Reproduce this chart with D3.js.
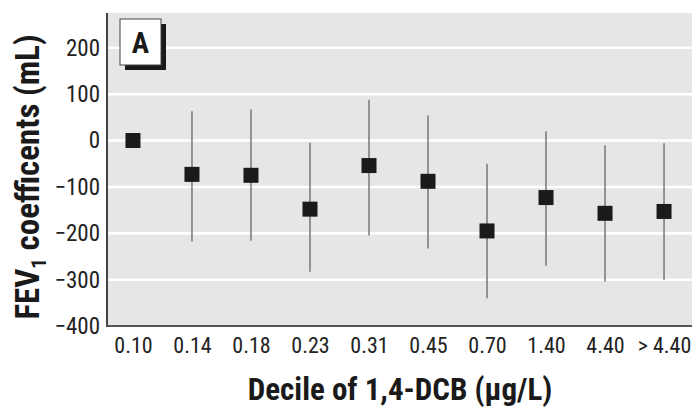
<!DOCTYPE html>
<html>
<head>
<meta charset="utf-8">
<script src="https://cdn.jsdelivr.net/npm/d3@7"></script>
<style>
  html, body { margin: 0; padding: 0; background: #ffffff; }
  svg { display: block; }
  text { font-family: "Liberation Sans Narrow", "Arial Narrow", "Roboto Condensed", "DejaVu Sans Condensed", sans-serif; }
</style>
</head>
<body>
<svg id="chart" width="692" height="410"></svg>
<script>
const categories = ["0.10", "0.14", "0.18", "0.23", "0.31", "0.45", "0.70", "1.40", "4.40", "> 4.40"];
const estimates  = [0, -73, -75, -148, -54, -88, -195, -123, -157, -153];
const lowerCI    = [null, -218, -216, -283, -205, -233, -340, -270, -304, -301];
const upperCI    = [null, 63, 67, -5, 88, 54, -50, 20, -10, -6];
const yTicks     = [-400, -300, -200, -100, 0, 100, 200];
const panelLabel = "A";

const svg = d3.select("#chart");
const pLeft = 107, pRight = 692, pTop = 13, pBottom = 326;

const x = d3.scalePoint().domain(categories).range([pLeft, 690]).padding(0.44);
const y = d3.scaleLinear().domain([-400, 275]).range([pBottom, pTop]);

// plot background
svg.append("rect").attr("x", pLeft).attr("y", pTop)
  .attr("width", pRight - pLeft).attr("height", pBottom - pTop)
  .attr("fill", "#e6e6e6");

// gridlines
svg.append("g").selectAll("line").data(yTicks.filter(d => d > -400)).join("line")
  .attr("x1", pLeft).attr("x2", pRight)
  .attr("y1", d => y(d)).attr("y2", d => y(d))
  .attr("stroke", "#ffffff").attr("stroke-width", 2.5);

// axes
const yAxis = d3.axisLeft(y).tickValues(yTicks).tickSize(0).tickPadding(7)
  .tickFormat(d => d < 0 ? "\u2212" + Math.abs(d) : String(d));
const gy = svg.append("g").attr("transform", `translate(${pLeft},0)`).call(yAxis);
gy.select(".domain").remove();
gy.selectAll("text").attr("font-size", 23).attr("fill", "#222");

const xAxis = d3.axisBottom(x).tickSize(0).tickPadding(11);
const gx = svg.append("g").attr("transform", `translate(0,${pBottom})`).call(xAxis);
gx.select(".domain").remove();
gx.selectAll("text").attr("font-size", 22).attr("fill", "#222");

svg.append("line").attr("x1", pLeft).attr("x2", pLeft).attr("y1", pTop).attr("y2", pBottom + 1)
  .attr("stroke", "#444").attr("stroke-width", 2);
svg.append("line").attr("x1", pLeft).attr("x2", pRight).attr("y1", pBottom).attr("y2", pBottom)
  .attr("stroke", "#555").attr("stroke-width", 2);

// error bars
const rows = categories.map((c, i) => ({c, est: estimates[i], lo: lowerCI[i], hi: upperCI[i]}));
svg.append("g").selectAll("line").data(rows.filter(d => d.lo !== null)).join("line")
  .attr("x1", d => x(d.c)).attr("x2", d => x(d.c))
  .attr("y1", d => y(d.hi)).attr("y2", d => y(d.lo))
  .attr("stroke", "#777").attr("stroke-width", 1.5);

// markers
const ms = 15;
svg.append("g").selectAll("rect").data(rows).join("rect")
  .attr("x", d => x(d.c) - ms / 2).attr("y", d => y(d.est) - ms / 2)
  .attr("width", ms).attr("height", ms)
  .attr("fill", "#1a1a1a");

// panel label box with shadow
svg.append("rect").attr("x", 125).attr("y", 24).attr("width", 41).attr("height", 46).attr("fill", "#1a1a1a");
svg.append("rect").attr("x", 120).attr("y", 19).attr("width", 41).attr("height", 46)
  .attr("fill", "#ffffff").attr("stroke", "#444").attr("stroke-width", 1);
svg.append("text").attr("x", 140.5).attr("y", 53).attr("text-anchor", "middle")
  .attr("font-size", 29).attr("font-weight", "bold").attr("fill", "#1a1a1a").text(panelLabel);

// axis titles
const yt = svg.append("text")
  .attr("transform", `translate(39,177) rotate(-90)`)
  .attr("text-anchor", "middle").attr("font-size", 33).attr("font-weight", "bold").attr("fill", "#1a1a1a");
yt.append("tspan").text("FEV");
yt.append("tspan").attr("font-size", 21).attr("dy", 7).text("1");
yt.append("tspan").attr("dy", -7).text(" coefficents (mL)");

svg.append("text").attr("x", 400).attr("y", 400).attr("text-anchor", "middle")
  .attr("font-size", 31).attr("font-weight", "bold").attr("fill", "#1a1a1a")
  .text("Decile of 1,4-DCB (\u03bcg/L)");
</script>
</body>
</html>
